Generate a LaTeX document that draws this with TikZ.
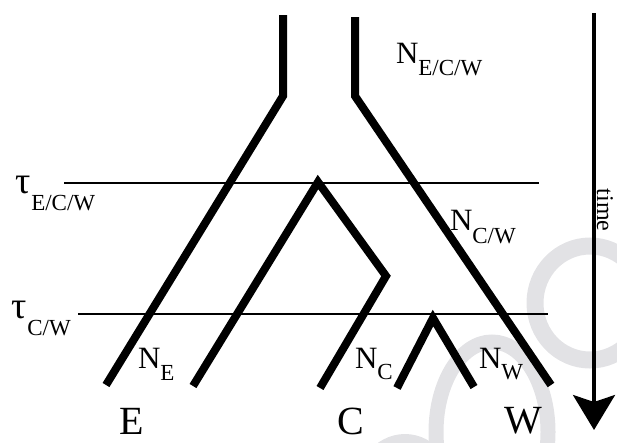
\documentclass[tikz,border=0pt]{standalone}
\usepackage{fontspec}
\setmainfont{Liberation Serif}
\usetikzlibrary{arrows.meta}
\definecolor{wm}{RGB}{226,226,229}
\newcommand{\plab}[3]{{\fontsize{31}{31}\selectfont #1}\raisebox{-#3}{\fontsize{23}{23}\selectfont #2}}
\newcommand{\tlab}[1]{{\fontsize{38}{38}\selectfont τ}\raisebox{-17pt}{\fontsize{23}{23}\selectfont #1}}
\begin{document}
\begin{tikzpicture}[x=1pt,y=-1pt,
  branch/.style={line width=8pt,line join=miter,line cap=butt},
  epoch/.style={line width=1.6pt},
  ring/.style={draw=wm},
  lbl/.style={anchor=base west,inner sep=0pt,outer sep=0pt},
  pop/.style={lbl,font=\fontsize{40}{40}\selectfont}]
\useasboundingbox (0,0) rectangle (617,442);
\begin{scope}
\clip (0,0) rectangle (617,442);
\draw[ring,line width=17pt] (590,303) ellipse [x radius=55, y radius=57];
\draw[ring,line width=15pt] (492,432) ellipse [x radius=56, y radius=90];
\draw[ring,line width=12pt] (405,500) ellipse [x radius=48, y radius=60];
\end{scope}
% coordinates
\coordinate (a1) at (283,15);
\coordinate (a2) at (283,96);
\coordinate (a3) at (106,385);
\coordinate (b1) at (355,17);
\coordinate (b2) at (355,96);
\coordinate (b3) at (551,385);
\coordinate (c0) at (318,182);
\coordinate (c1) at (193,386);
\coordinate (c2) at (386,276);
\coordinate (c3) at (320,388);
\coordinate (d0) at (433,318);
\coordinate (d1) at (397,388);
\coordinate (d2) at (474,387);
\coordinate (h1l) at (64,183);
\coordinate (h1r) at (539,183);
\coordinate (h2l) at (78,314);
\coordinate (h2r) at (548,314);
\coordinate (t0) at (594,13);
\coordinate (t1) at (594,430);
% epochs
\draw[epoch] (h1l) -- (h1r);
\draw[epoch] (h2l) -- (h2r);
% branches
\draw[branch] (a1) -- (a2) -- (a3);
\draw[branch] (b1) -- (b2) -- (b3);
\draw[branch] (c1) -- (c0) -- (c2) -- (c3);
\draw[branch] (d1) -- (d0) -- (d2);
% time arrow
\draw[line width=3.5pt,-{Stealth[length=35pt,width=42pt,inset=7pt]}] (t0) -- (t1);
\node[anchor=center,rotate=-90,inner sep=0pt,font=\fontsize{24}{24}\selectfont] (time) at (605,210) {time};
% labels
\node[lbl] (nall) at (396,63) {\plab{N}{E/C/W}{12pt}};
\node[lbl] (ncw) at (450,230) {\plab{N}{C/W}{13pt}};
\node[lbl] (ne) at (138,368) {\plab{N}{E}{12pt}};
\node[lbl] (nc) at (355,368) {\plab{N}{C}{11pt}};
\node[lbl] (nw) at (479,368) {\plab{N}{W}{11pt}};
\node[lbl] (tau1) at (16,193) {\tlab{E/C/W}};
\node[lbl] (tau2) at (12,318) {\tlab{C/W}};
\node[pop] (E) at (119,434) {\raisebox{0pt}[\height][0pt]{E}};
\node[pop] (C) at (337,434) {\raisebox{0pt}[\height][0pt]{C}};
\node[pop] (W) at (504,433) {\raisebox{0pt}[\height][0pt]{W}};
\end{tikzpicture}
\end{document}
